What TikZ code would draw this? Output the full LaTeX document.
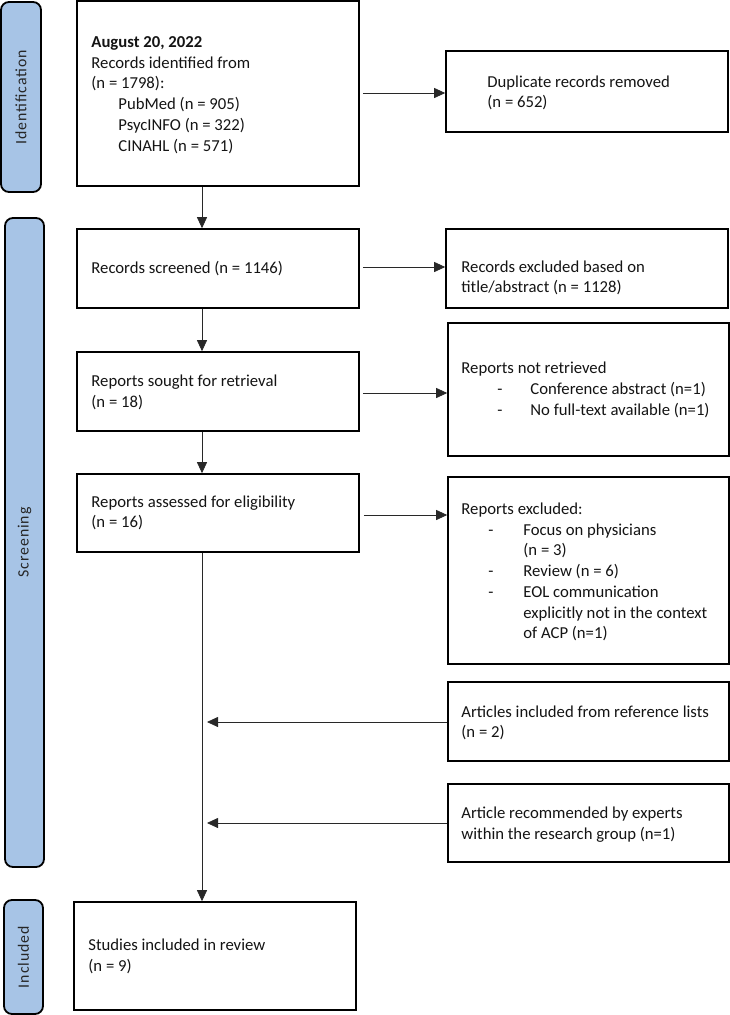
\documentclass[tikz,border=0pt]{standalone}
\usepackage{fontspec}
\setmainfont{Carlito}
\newfontfamily\bandfont[LetterSpace=6]{Carlito}
\usetikzlibrary{arrows.meta}
\definecolor{bandblue}{RGB}{167,196,230}
\definecolor{linegrey}{RGB}{40,40,40}
\begin{document}
\begin{tikzpicture}[x=1pt,y=-1pt,
  every node/.style={font=\fontsize{16.7}{20.7}\selectfont},
  box/.style={draw=black, line width=1.6pt, fill=white, inner sep=0pt, rectangle},
  txt/.style={anchor=west, align=left, inner sep=0pt, text=black!92},
  band/.style={draw=black, line width=1.8pt, fill=bandblue, rounded corners=8pt,
    rotate=90, inner sep=0pt, minimum height=39pt,
    font=\bandfont\fontsize{15.8}{18}\selectfont, text=black!85},
  arr/.style={draw=linegrey, line width=0.8pt, -{Triangle[length=11pt,width=10pt]}},
  plain/.style={draw=linegrey, line width=0.8pt}]
\useasboundingbox (0,0) rectangle (730,1015);

% phase bands
\node[band, minimum width=190pt, minimum height=40pt] (ident) at (21,97) {Identification};
\node[band, minimum width=649pt] (screen) at (24.5,542.5) {Screening};
\node[band, minimum width=114pt] (incl) at (23.5,957) {Included};

% boxes
\node[box, minimum width=282pt, minimum height=185pt] (box1) at (218,93.5) {};
\node[box, minimum width=282pt, minimum height=81pt] (dup) at (587,91.5) {};
\node[box, minimum width=282pt, minimum height=79pt] (screened) at (218,268.5) {};
\node[box, minimum width=282pt, minimum height=79pt] (recexcl) at (587,268.5) {};
\node[box, minimum width=282pt, minimum height=79pt] (sought) at (218,391.5) {};
\node[box, minimum width=281pt, minimum height=133pt] (notret) at (588.5,389.5) {};
\node[box, minimum width=282pt, minimum height=78pt] (assessed) at (218,513) {};
\node[box, minimum width=281pt, minimum height=187pt] (excluded) at (588.5,570.5) {};
\node[box, minimum width=281pt, minimum height=79pt] (articles) at (588.5,721.5) {};
\node[box, minimum width=281pt, minimum height=78pt] (recomm) at (588.5,823) {};
\node[box, minimum width=282pt, minimum height=108pt] (included) at (215,956) {};

% texts
\node[txt] (t1) at ([xshift=15pt,yshift=-1.5pt]box1.west) {\textbf{August 20, 2022}\\
Records identified from\\
(n = 1798):\\
\hspace*{27pt}PubMed (n = 905)\\
\hspace*{27pt}PsycINFO (n = 322)\\
\hspace*{27pt}CINAHL (n = 571)};
\node[txt] (t2) at ([xshift=42pt,yshift=-1.5pt]dup.west) {Duplicate records removed\\(n = 652)};
\node[txt] (t3) at ([xshift=15pt]screened.west) {Records screened (n = 1146)};
\node[txt] (t4) at ([xshift=16pt,yshift=-9.5pt]recexcl.west) {Records excluded based on\\title/abstract (n = 1128)};
\node[txt] (t5) at ([xshift=15pt,yshift=-1pt]sought.west) {Reports sought for retrieval\\(n = 18)};
\node[txt] (t6) at ([xshift=14pt,yshift=-0.5pt]notret.west) {Reports not retrieved\\
\hspace*{36pt}\makebox[33pt][l]{-}Conference abstract (n=1)\\
\hspace*{36pt}\makebox[33pt][l]{-}No full-text available (n=1)};
\node[txt] (t7) at ([xshift=15pt]assessed.west) {Reports assessed for eligibility\\(n = 16)};
\node[txt] (t8) at ([xshift=14pt,yshift=-1.5pt]excluded.west) {Reports excluded:\\
\hspace*{27pt}\makebox[35pt][l]{-}Focus on physicians\\
\hspace*{62pt}(n = 3)\\
\hspace*{27pt}\makebox[35pt][l]{-}Review (n = 6)\\
\hspace*{27pt}\makebox[35pt][l]{-}EOL communication\\
\hspace*{62pt}explicitly not in the context\\
\hspace*{62pt}of ACP (n=1)};
\node[txt] (t9) at ([xshift=14pt,yshift=-1.5pt]articles.west) {Articles included from reference lists\\(n = 2)};
\node[txt] (t10) at ([xshift=14pt,yshift=-1.5pt]recomm.west) {Article recommended by experts\\within the research group (n=1)};
\node[txt] (t11) at ([xshift=15pt,yshift=-0.5pt]included.west) {Studies included in review\\(n = 9)};

% spine
\coordinate (spine) at (202,0);

% vertical connectors
\draw[arr] (box1.south -| spine) -- (screened.north -| spine);
\draw[arr] (screened.south -| spine) -- (sought.north -| spine);
\draw[arr] (sought.south -| spine) -- (assessed.north -| spine);
\draw[arr] (assessed.south -| spine) -- (included.north -| spine);

% horizontal connectors to the right
\draw[arr, shorten <=3pt] ([yshift=-1.5pt]box1.east |- dup.west) -- ([yshift=-1.5pt]dup.west);
\draw[arr, shorten <=3pt] ([yshift=1.5pt]screened.east) -- ([yshift=1.5pt]screened.east -| recexcl.west);
\draw[arr, shorten <=3pt] ([yshift=-1.5pt]sought.east) -- ([yshift=-1.5pt]sought.east -| notret.west);
\draw[arr, shorten <=4pt] ([yshift=-2pt]assessed.east) -- ([yshift=-2pt]assessed.east -| excluded.west);

% connectors into the spine
\draw[arr] ([yshift=-0.5pt]articles.west) -- ([xshift=5pt,yshift=-0.5pt]articles.west -| spine);
\draw[arr] (recomm.west) -- ([xshift=5pt]recomm.west -| spine);
\end{tikzpicture}
\end{document}
